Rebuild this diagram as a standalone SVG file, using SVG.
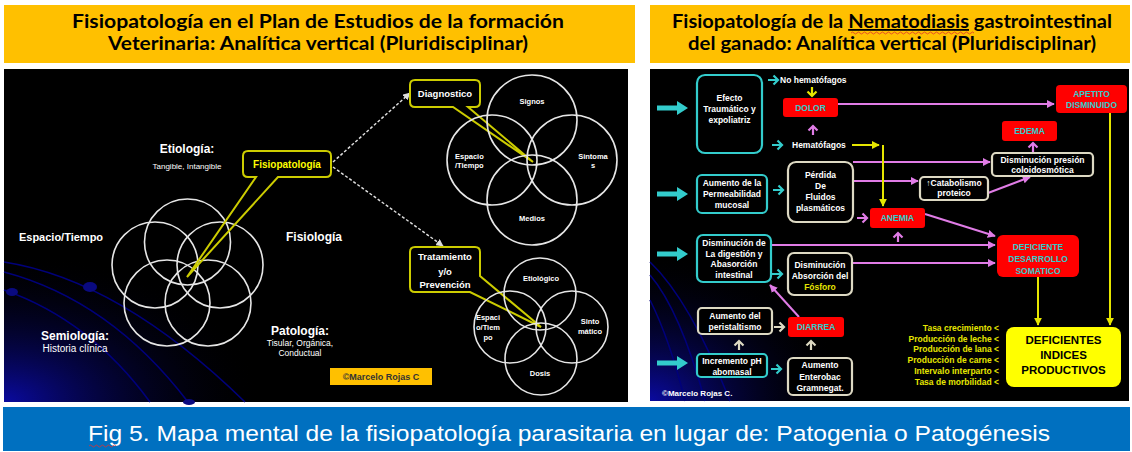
<svg xmlns="http://www.w3.org/2000/svg" width="1132" height="452" viewBox="0 0 1132 452">
<style>
.title{font-family:Lato,"Liberation Sans",sans-serif;font-weight:bold;font-size:18px;fill:#000;text-anchor:middle}
.w{font-family:"Liberation Sans",Arial,sans-serif;fill:#fff;text-anchor:middle}
.s{text-anchor:start}
.yf{fill:#e6e600}
.b{font-weight:bold}
.t8{font-size:8.5px}
.t7{font-size:7.5px}
.circ{fill:none;stroke:#e6e6e6;stroke-width:1.6}
.callout{fill:none;stroke:#cccc00;stroke-width:2}
.boxc{fill:#000;stroke:#33cccc;stroke-width:2.2}
.boxb{fill:#000;stroke:#ddd9c3;stroke-width:2.2}
.boxr{fill:#ff0000;stroke:none}
.rt{font-family:"Liberation Sans",Arial,sans-serif;font-weight:bold;font-size:8.5px;fill:#33cccc;text-anchor:middle}
.pink{stroke:#e07ce6;stroke-width:2;fill:none}
.yel{stroke:#e6e600;stroke-width:2;fill:none}
.arc{stroke:#00007a;stroke-width:1.6;fill:none}
.ylist{font-family:"Liberation Sans",Arial,sans-serif;font-weight:bold;font-size:8.5px;fill:#e6e600;text-anchor:end}
</style>
<defs>
<marker id="mp" viewBox="0 0 10 10" refX="9" refY="5" markerWidth="4" markerHeight="4" orient="auto"><path d="M0,0 L10,5 L0,10 z" fill="#e07ce6"/></marker>
<marker id="my" viewBox="0 0 10 10" refX="9" refY="5" markerWidth="4" markerHeight="4" orient="auto"><path d="M0,0 L10,5 L0,10 z" fill="#e6e600"/></marker>
<marker id="mw" viewBox="0 0 10 10" refX="9" refY="5" markerWidth="5" markerHeight="5" orient="auto"><path d="M0,0 L10,5 L0,10 z" fill="#ddd"/></marker>
<path id="big" d="M0,-2.5 H20 V-7 L31,0 L20,7 V2.5 H0 Z" fill="#33cccc"/>
<path id="sm" d="M0,0 H10 M5.5,-4.5 L10,0 L5.5,4.5" fill="none" stroke-width="2.2"/>
<path id="up" d="M0,0 V-9 M-4.5,-4.5 L0,-9 L4.5,-4.5" fill="none" stroke-width="2.2"/>
<radialGradient id="glow" cx="0" cy="1" r="1">
<stop offset="0" stop-color="#0a0aa0"/>
<stop offset="1" stop-color="#000" stop-opacity="0"/>
</radialGradient>
</defs>

<!-- headers -->
<g id="header-left">
<rect x="4" y="5" width="631" height="58" fill="#ffc000"/>
<text class="title" x="318" y="28" textLength="492" lengthAdjust="spacingAndGlyphs">Fisiopatología en el Plan de Estudios de la formación</text>
<text class="title" x="318" y="50" textLength="420" lengthAdjust="spacingAndGlyphs">Veterinaria: Analítica vertical (Pluridisciplinar)</text>
</g>
<g id="header-right">
<rect x="650" y="5" width="480" height="58" fill="#ffc000"/>
<text class="title" x="892" y="28" textLength="440" lengthAdjust="spacingAndGlyphs">Fisiopatología de la <tspan text-decoration="underline">Nematodiasis</tspan> gastrointestinal</text>
<path d="M851,33 q1.5,-2 3,0 t3,0 t3,0 t3,0 t3,0 t3,0 t3,0 t3,0 t3,0 t3,0 t3,0 t3,0 t3,0 t3,0 t3,0 t3,0 t3,0 t3,0 t3,0 t3,0 t3,0 t3,0 t3,0 t3,0 t3,0 t3,0 t3,0 t3,0 t3,0 t3,0 t3,0 t3,0 t3,0 t3,0 t3,0 t3,0 t3,0 t3,0 t3,0 t3,0 t3,0" fill="none" stroke="#e03030" stroke-width="0.8"/>
<text class="title" x="892" y="50" textLength="408" lengthAdjust="spacingAndGlyphs">del ganado: Analítica vertical (Pluridisciplinar)</text>
</g>

<!-- left panel -->
<g id="panel-left">
<rect x="4" y="69" width="624" height="333" fill="#000"/>
<rect x="4" y="250" width="260" height="152" fill="url(#glow)"/>
<path class="arc" d="M4,262 Q120,280 245,402"/>
<path class="arc" d="M4,272 Q110,300 188,402"/>
<path class="arc" d="M4,290 Q90,320 150,402"/>
<ellipse cx="90" cy="287" rx="7" ry="5" fill="#0a0a80"/>
<ellipse cx="12" cy="292" rx="6" ry="4" fill="#0a0a80"/>
<ellipse cx="189" cy="402" rx="6" ry="3" fill="#0a0a80"/>
</g>

<g id="venn-left">
<circle class="circ" cx="187.5" cy="242" r="43"/>
<circle class="circ" cx="155" cy="265" r="43"/>
<circle class="circ" cx="220" cy="265" r="43"/>
<circle class="circ" cx="167" cy="303" r="43"/>
<circle class="circ" cx="208" cy="303" r="43"/>
</g>
<g id="lbl-etiologia"><text class="w b" x="187" y="153" font-size="12">Etiología:</text><text class="w" x="187" y="169" font-size="8">Tangible, Intangible</text></g>
<g id="lbl-espacio"><text class="w b" x="61" y="241" font-size="11">Espacio/Tiempo</text></g>
<g id="lbl-fisiologia"><text class="w b" x="314" y="241" font-size="12">Fisiología</text></g>
<g id="lbl-semiologia"><text class="w b" x="75" y="340" font-size="12">Semiología:</text><text class="w" x="75" y="352" font-size="10">Historia clínica</text></g>
<g id="lbl-patologia"><text class="w b" x="300" y="335" font-size="12">Patología:</text><text class="w" x="300" y="346" font-size="8.5">Tisular, Orgánica,</text><text class="w" x="300" y="356" font-size="8.5">Conductual</text></g>
<g id="copy-left"><rect x="330" y="368" width="102" height="17" fill="#ffc000"/><text x="381" y="380" font-family="Liberation Sans,Arial,sans-serif" font-weight="bold" font-size="9" fill="#333" text-anchor="middle">©Marcelo Rojas C</text></g>

<g id="fisiopatologia">
<path class="callout" d="M256,177 H248 Q243,177 243,172 V156 Q243,151 248,151 H326 Q331,151 331,156 V172 Q331,177 326,177 H278 L187,277 Z"/>
<text x="287" y="168" font-family="Liberation Sans,Arial,sans-serif" font-weight="bold" font-size="10" fill="#ffff00" text-anchor="middle">Fisiopatología</text>
</g>

<g id="connectors-left">
<line x1="333" y1="162" x2="410" y2="93" stroke="#ddd" stroke-width="1.5" stroke-dasharray="3,2" marker-end="url(#mw)"/>
<line x1="333" y1="167" x2="443" y2="246" stroke="#ddd" stroke-width="1.5" stroke-dasharray="3,2" marker-end="url(#mw)"/>
</g>

<g id="diagnostico">
<path class="callout" d="M453,107 H415 Q410,107 410,102 V85 Q410,80 415,80 H475 Q480,80 480,85 V102 Q480,107 475,107 H468 L533,162 Z"/>
<text class="w b" x="445" y="97" font-size="9.5">Diagnostico</text>
</g>
<g id="venn-diag">
<circle class="circ" cx="532" cy="120" r="45"/>
<circle class="circ" cx="492" cy="160" r="45"/>
<circle class="circ" cx="572" cy="160" r="45"/>
<circle class="circ" cx="532" cy="200" r="45"/>
<text class="w b t7" x="532" y="104">Signos</text>
<text class="w b t7 s" x="455" y="159">Espacio</text>
<text class="w b t7 s" x="455" y="168">/Tiempo</text>
<text class="w b t7" x="593" y="159">Sintoma</text>
<text class="w b t7" x="593" y="168">s</text>
<text class="w b t7" x="532" y="221">Medios</text>
</g>

<g id="tratamiento">
<path class="callout" d="M470,292 H415 Q410,292 410,287 V252 Q410,247 415,247 H475 Q480,247 480,252 V276 L541,327 Z"/>
<text class="w b" x="445" y="260" font-size="9.5">Tratamiento</text>
<text class="w b" x="445" y="275" font-size="9.5">y/o</text>
<text class="w b" x="445" y="288" font-size="9.5">Prevención</text>
</g>
<g id="venn-trat">
<circle class="circ" cx="540" cy="294" r="36"/>
<circle class="circ" cx="510" cy="327" r="36"/>
<circle class="circ" cx="572" cy="327" r="36"/>
<circle class="circ" cx="541" cy="359" r="36"/>
<text class="w b t7" x="541" y="281">Etiológico</text>
<text class="w b t7" x="488" y="320">Espaci</text>
<text class="w b t7" x="488" y="330">o/Tiem</text>
<text class="w b t7" x="488" y="340">po</text>
<text class="w b t7" x="590" y="324">Sinto</text>
<text class="w b t7" x="590" y="334">mático</text>
<text class="w b t7" x="540" y="376">Dosis</text>
</g>

<!-- right panel -->
<g id="panel-right">
<rect x="650" y="69" width="479" height="332" fill="#000"/>
<rect x="650" y="250" width="200" height="151" fill="url(#glow)"/>
<path class="arc" d="M650,262 Q690,300 730,401"/>
<path class="arc" d="M650,275 Q680,310 705,401"/>
<path class="arc" d="M650,300 Q670,340 685,401"/>
</g>

<g id="connectors-right">
<use href="#big" x="657" y="108"/>
<use href="#big" x="657" y="194"/>
<use href="#big" x="657" y="254"/>
<use href="#big" x="657" y="363"/>
<use href="#sm" x="768" y="80" stroke="#33cccc"/>
<use href="#sm" x="772" y="145" stroke="#33cccc"/>
<use href="#sm" x="773" y="190" stroke="#33cccc"/>
<use href="#sm" x="772" y="274" stroke="#33cccc"/>
<use href="#sm" x="771" y="369" stroke="#33cccc"/>
<use href="#sm" x="774" y="327" stroke="#ddd9c3"/>
<use href="#up" x="739" y="350" stroke="#ddd9c3"/>
<use href="#up" x="811" y="350" stroke="#ddd9c3"/>
<use href="#up" x="813" y="135" stroke="#e07ce6"/>
<use href="#up" x="1033" y="152" stroke="#e07ce6"/>
<use href="#up" x="898" y="242" stroke="#e07ce6"/>
<use href="#up" stroke="#e6e600" transform="translate(812,87) rotate(180)"/>
<path class="pink" d="M838,104 H1054" marker-end="url(#mp)"/>
<path class="pink" d="M853,162 H990" marker-end="url(#mp)"/>
<path class="pink" d="M853,181 H918" marker-end="url(#mp)"/>
<path class="pink" d="M988,193 L1030,177" marker-end="url(#mp)"/>
<path class="pink" d="M925,214 L995,236" marker-end="url(#mp)"/>
<path class="pink" d="M771,245 H995" marker-end="url(#mp)"/>
<path class="pink" d="M852,263 H995" marker-end="url(#mp)"/>
<path class="pink" d="M799,317 L770,285" marker-end="url(#mp)"/>
<use href="#sm" x="857" y="218" stroke="#e07ce6"/>
<path class="yel" d="M852,145 H879" marker-end="url(#my)"/>
<path class="yel" d="M883,145 V206" marker-end="url(#my)"/>
<path class="yel" d="M1110,113 V325" marker-end="url(#my)"/>
<path class="yel" d="M1038,277 V325" marker-end="url(#my)"/>
</g>

<g id="efecto"><rect class="boxc" x="697" y="75" width="65" height="78" rx="8"/>
<text class="w b t8" x="729.5" y="101">Efecto</text><text class="w b t8" x="729.5" y="112">Traumático y</text><text class="w b t8" x="729.5" y="123">expoliatriz</text></g>
<g id="no-hemato"><text class="w b t8 s" x="780" y="83">No hematófagos</text></g>
<g id="dolor"><rect class="boxr" x="783" y="98" width="55" height="19" rx="3"/><text class="rt" x="810.5" y="111">DOLOR</text></g>
<g id="hemato"><text class="w b t8 s" x="792" y="148">Hematófagos</text></g>
<g id="apetito"><rect class="boxr" x="1056" y="85" width="71" height="28" rx="4"/><text class="rt" x="1091.5" y="97">APETITO</text><text class="rt" x="1091.5" y="108">DISMINUIDO</text></g>
<g id="edema"><rect class="boxr" x="1002" y="121" width="55" height="20" rx="3"/><text class="rt" x="1029.5" y="134">EDEMA</text></g>
<g id="presion"><rect class="boxb" x="992" y="153" width="101" height="23" rx="4"/><text class="w b t8" x="1042.5" y="163">Disminución presión</text><text class="w b t8" x="1042.5" y="173">coloidosmótica</text></g>
<g id="catabolismo"><rect class="boxb" x="920" y="177" width="68" height="23" rx="4"/><text class="w b t8" x="954" y="186">↑Catabolismo</text><text class="w b t8" x="954" y="196">proteico</text></g>
<g id="permeabilidad"><rect class="boxc" x="697" y="175" width="70" height="38" rx="5"/><text class="w b t8" x="732" y="186">Aumento de la</text><text class="w b t8" x="732" y="197">Permeabilidad</text><text class="w b t8" x="732" y="208">mucosal</text></g>
<g id="perdida"><rect class="boxb" x="788" y="162" width="65" height="60" rx="8"/><text class="w b t8" x="820.5" y="178">Pérdida</text><text class="w b t8" x="820.5" y="189">De</text><text class="w b t8" x="820.5" y="200">Fluidos</text><text class="w b t8" x="820.5" y="211">plasmáticos</text></g>
<g id="anemia"><rect class="boxr" x="870" y="208" width="55" height="20" rx="3"/><text class="rt" x="897.5" y="221">ANEMIA</text></g>
<g id="desarrollo"><rect class="boxr" x="997" y="235" width="82" height="42" rx="6"/><text class="rt" x="1038" y="250">DEFICIENTE</text><text class="rt" x="1038" y="262">DESARROLLO</text><text class="rt" x="1038" y="274">SOMATICO</text></g>
<g id="digestion"><rect class="boxc" x="697" y="235" width="74" height="47" rx="6"/><text class="w b t8" x="734" y="246">Disminución de</text><text class="w b t8" x="734" y="257">La digestión y</text><text class="w b t8" x="734" y="267">Abasorción</text><text class="w b t8" x="734" y="278">intestinal</text></g>
<g id="fosforo"><rect class="boxb" x="788" y="253" width="64" height="42" rx="6"/><text class="w b t8" x="820" y="268">Disminución</text><text class="w b t8" x="820" y="279">Absorción del</text><text class="w b t8 yf" x="820" y="290">Fósforo</text></g>
<g id="peristaltismo"><rect class="boxb" x="698" y="308" width="74" height="26" rx="4"/><text class="w b t8" x="735" y="319">Aumento del</text><text class="w b t8" x="735" y="330">peristaltismo</text></g>
<g id="diarrea"><rect class="boxr" x="788" y="317" width="56" height="20" rx="3"/><text class="rt" x="816" y="330">DIARREA</text></g>
<g id="ph"><rect class="boxc" x="697" y="354" width="70" height="23" rx="4"/><text class="w b t8" x="732" y="364">Incremento pH</text><text class="w b t8" x="732" y="375">abomasal</text></g>
<g id="enterobac"><rect class="boxb" x="788" y="358" width="64" height="37" rx="5"/><text class="w b t8" x="820" y="368">Aumento</text><text class="w b t8" x="820" y="380">Enterobac</text><text class="w b t8" x="820" y="391">Gramnegat.</text></g>
<g id="copy-right"><text class="w b s" x="662" y="396" font-size="8">©Marcelo Rojas C.</text></g>
<g id="indices"><rect x="1006" y="327" width="115" height="60" rx="8" fill="#ffff00"/>
<text x="1063.5" y="344" font-family="Liberation Sans,Arial,sans-serif" font-weight="bold" font-size="11.5" text-anchor="middle">DEFICIENTES</text>
<text x="1063.5" y="359" font-family="Liberation Sans,Arial,sans-serif" font-weight="bold" font-size="11.5" text-anchor="middle">INDICES</text>
<text x="1063.5" y="374" font-family="Liberation Sans,Arial,sans-serif" font-weight="bold" font-size="11.5" text-anchor="middle">PRODUCTIVOS</text></g>
<g id="lista">
<text class="ylist" x="999" y="331">Tasa crecimiento &lt;</text>
<text class="ylist" x="999" y="342">Producción de leche &lt;</text>
<text class="ylist" x="999" y="352">Producción de lana &lt;</text>
<text class="ylist" x="999" y="363">Producción de carne &lt;</text>
<text class="ylist" x="999" y="374">Intervalo interparto &lt;</text>
<text class="ylist" x="999" y="385">Tasa de morbilidad &lt;</text>
</g>

<g id="footer">
<rect x="3" y="407" width="1127" height="44" fill="#0070c0"/>
<text x="569" y="441" font-family="Liberation Sans,Arial,sans-serif" font-size="22" fill="#fff" text-anchor="middle" textLength="962" lengthAdjust="spacingAndGlyphs">Fig 5. Mapa mental de la fisiopatología parasitaria en lugar de: Patogenia o Patogénesis</text>
<path d="M89,446 q1.5,-2 3,0 t3,0 t3,0 t3,0 t3,0 t3,0 t3,0 t3,0 t3,0" fill="none" stroke="#e03030" stroke-width="0.8"/>
</g>
</svg>
